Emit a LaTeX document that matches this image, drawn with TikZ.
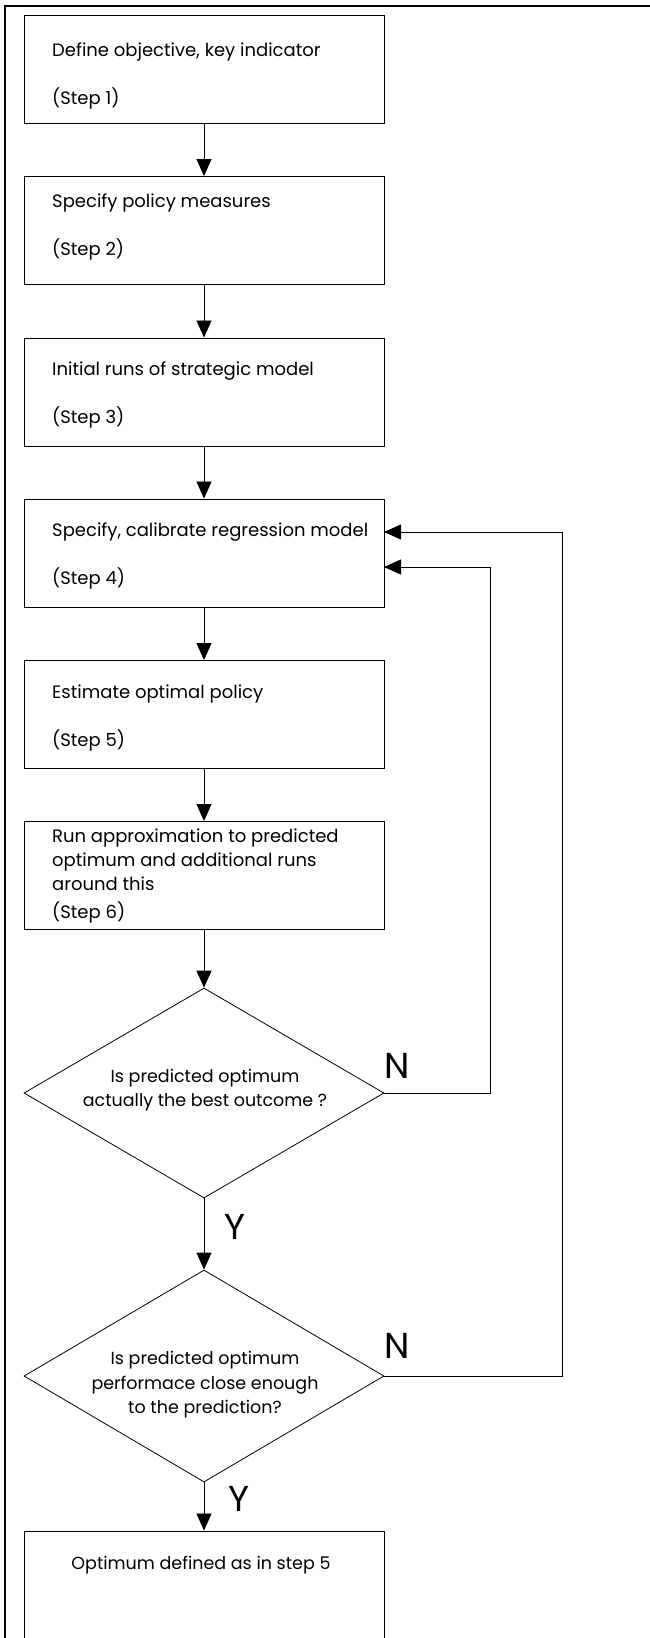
\documentclass[tikz,border=0pt]{standalone}
\usepackage{fontspec}
\setmainfont{Poppins}
\usetikzlibrary{arrows.meta,shapes.geometric}
\begin{document}
\begin{tikzpicture}[x=1pt,y=-1pt,
  box/.style={draw, line width=0.9pt, minimum width=360pt, minimum height=108pt, inner sep=0pt},
  dia/.style={draw, diamond, line width=0.8pt, minimum width=360pt, inner sep=0pt},
  txt/.style={font=\fontsize{18}{48}\selectfont, align=left, inner sep=0pt, anchor=west},
  ctxt/.style={font=\fontsize{17.5}{24.5}\selectfont, align=center, inner sep=0pt},
  yn/.style={font=\fontsize{36}{36}\selectfont, inner sep=0pt},
  arr/.style={draw, line width=0.8pt, -{Triangle[length=17pt, width=15pt]}},
  con/.style={draw, line width=0.8pt}
]
\useasboundingbox (0,0) rectangle (650,1638);
% outer frame
\draw[line width=1.3pt] (5,1660) -- (5,6) -- (670,6);

% boxes
\node[box] (s1) at (204,69) {};
\node[box] (s2) at (204,230.5) {};
\node[box] (s3) at (204,392) {};
\node[box] (s4) at (204,553) {};
\node[box] (s5) at (204,714.5) {};
\node[box] (s6) at (204,875.5) {};
\node[dia, minimum height=210pt] (d1) at (204,1093) {};
\node[dia, minimum height=212pt] (d2) at (204,1376) {};
\node[box, minimum height=180pt] (s7) at (204,1621) {};

% texts
\node[txt] (t1) at (52,76) {Define objective, key indicator\\(Step 1)};
\node[txt] (t2) at (52,227) {Specify policy measures\\(Step 2)};
\node[txt] (t3) at (52,395) {Initial runs of strategic model\\(Step 3)};
\node[txt] (t4) at (52,556) {Specify, calibrate regression model\\(Step 4)};
\node[txt] (t5) at (52,718) {Estimate optimal policy\\(Step 5)};
\node[txt, font=\fontsize{18}{24}\selectfont] (t6) at (52,876) {Run approximation to predicted\\optimum and additional runs\\around this\\[4pt](Step 6)};
\node[ctxt] (t7) at (205,1090) {Is predicted optimum\\actually the best outcome ?};
\node[ctxt] (t8) at (205,1385) {Is predicted optimum\\performace close enough\\to the prediction?};
\node[ctxt] (t9) at (201,1565) {Optimum defined as in step 5};

% labels
\node[yn] (y1) at (235,1227) {Y};
\node[yn] (y2) at (239,1499) {Y};
\node[yn] (n1) at (397,1066) {N};
\node[yn] (n2) at (397,1346) {N};

% connectors
\draw[arr] (s1.south) -- (s2.north);
\draw[arr] (s2.south) -- (s3.north);
\draw[arr] (s3.south) -- (s4.north);
\draw[arr] (s4.south) -- (s5.north);
\draw[arr] (s5.south) -- (s6.north);
\draw[arr] (s6.south) -- (d1.north);
\draw[arr] (d1.south) -- (d2.north);
\draw[arr] (d2.south) -- (s7.north);

\coordinate (r1) at (490,567);
\coordinate (e1) at (384,567);
\coordinate (r2) at (562,532);
\coordinate (e2) at (384,532);
\draw[arr] (d1.east) -| (r1) -- (e1);
\draw[arr] (d2.east) -| (r2) -- (e2);
\end{tikzpicture}
\end{document}
